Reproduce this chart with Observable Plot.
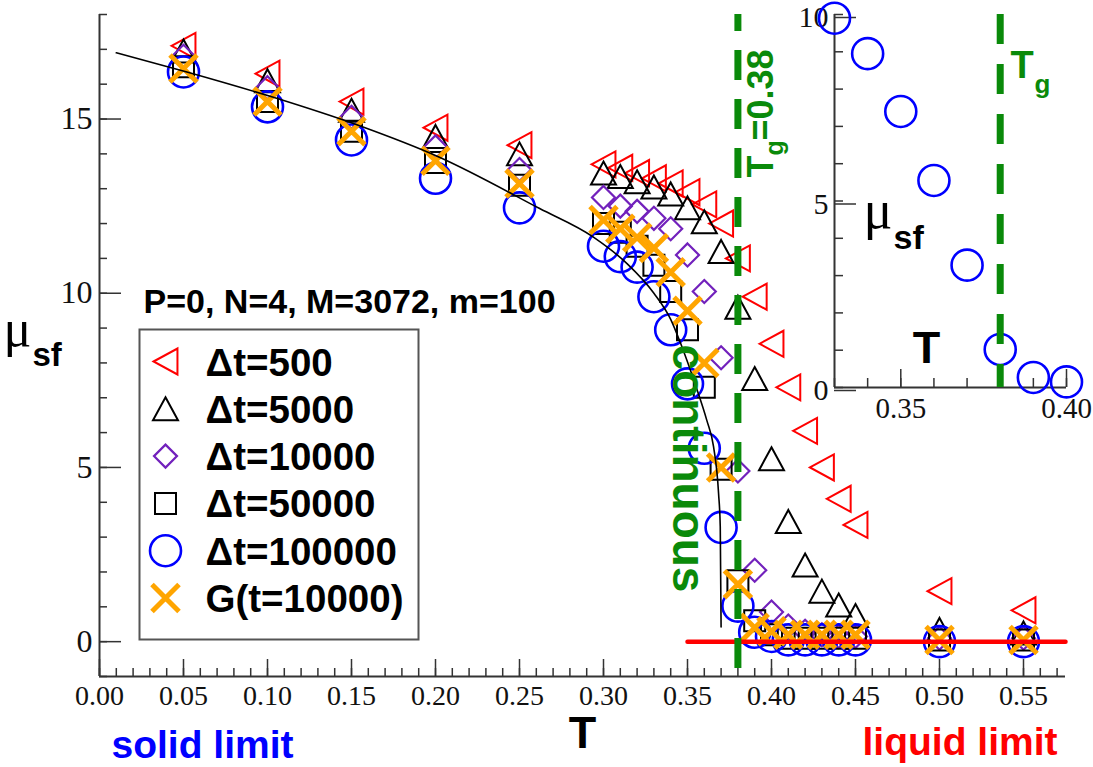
<!DOCTYPE html>
<html><head><meta charset="utf-8">
<script src="https://cdn.jsdelivr.net/npm/d3@7"></script>
<script src="https://cdn.jsdelivr.net/npm/@observablehq/plot@0.6"></script>
<style>
html,body{margin:0;padding:0;background:#fff;}
#wrap{position:relative;width:1093px;height:767px;overflow:hidden;}
#main{position:absolute;left:0;top:0;width:1093px;}
#inset{position:absolute;left:780px;top:0;width:313px;}
</style></head>
<body><div id="wrap"><div id="main"></div><div id="inset"></div></div>
<script>
// ---------------- data ----------------
const T        = [0.05, 0.10, 0.15, 0.20, 0.25, 0.30, 0.31, 0.32, 0.33, 0.34, 0.35, 0.36, 0.37, 0.38, 0.39, 0.40, 0.41, 0.42, 0.43, 0.44, 0.45, 0.50, 0.55];
const mu500    = [17.1, 16.3, 15.5, 14.75, 14.25, 13.7, 13.6, 13.45, 13.3, 13.15, 12.9, 12.55, 12.0, 11.0, 9.9, 8.55, 7.3, 6.05, 5.0, 4.1, 3.35, 1.45, 0.9];
const mu5000   = [16.95, 16.1, 15.25, 14.5, 14.0, 13.45, 13.35, 13.2, 13.05, 12.85, 12.45, 12.05, 11.2, 9.6, 7.55, 5.25, 3.45, 2.2, 1.45, 1.05, 0.75, 0.35, 0.25];
const mu10000  = [16.8, 15.9, 15.05, 14.2, 13.55, 12.75, 12.5, 12.35, 12.15, 11.85, 11.1, 10.05, 8.15, 4.9, 2.05, 0.85, 0.45, 0.3, 0.2, 0.15, 0.15, 0.1, 0.1];
const mu50000  = [16.5, 15.5, 14.65, 13.75, 13.1, 12.0, 11.75, 11.35, 10.8, 10.05, 8.95, 7.3, 4.95, 1.75, 0.6, 0.2, 0.1, 0.1, 0.1, 0.1, 0.1, 0.05, 0.05];
const mu100000 = [16.35, 15.35, 14.4, 13.3, 12.45, 11.35, 11.05, 10.75, 9.9, 8.95, 7.4, 5.55, 3.28, 1.02, 0.27, 0.15, 0.05, 0.05, 0.05, 0.05, 0.05, 0.0, 0.0];
const muG      = [16.45, 15.5, 14.65, 13.8, 13.15, 12.1, 11.85, 11.6, 11.3, 10.6, 9.5, 8.0, 5.0, 1.65, 0.4, 0.3, 0.2, 0.2, 0.2, 0.2, 0.2, 0.05, 0.05];
const seriesNames = ["\u0394t=500", "\u0394t=5000", "\u0394t=10000", "\u0394t=50000", "\u0394t=100000", "G(t=10000)"];

// fitted black curve
const fitT  = [0.010, 0.052, 0.103, 0.154, 0.202, 0.262, 0.294, 0.314, 0.330, 0.340, 0.346, 0.3545, 0.3615, 0.3655, 0.3685, 0.3695, 0.3700];
const fitMu = [16.9, 16.35, 15.63, 14.82, 13.91, 12.43, 11.61, 10.85, 10.0, 9.25, 8.55, 7.4, 6.35, 5.6, 4.25, 3.3, 0.42];

const Tg = 0.38;                       // glass temperature (dashed green)
const liquidT  = [0.35, 0.575];        // red "liquid limit" line
const liquidMu = [0, 0];

// axes
const xDomain = [0, 0.575], yDomain = [-1, 18];
const xMajorTicks = [0, 0.05, 0.10, 0.15, 0.20, 0.25, 0.30, 0.35, 0.40, 0.45, 0.50, 0.55];
const xMinorTicks = d3.range(0, 0.5751, 0.01);
const yMajorTicks = [0, 5, 10, 15];
const yMinorTicks = d3.range(-1, 18.01, 1);

const insetXDomain = [0.33, 0.40], insetYDomain = [0, 10];
const insetXMajor = [0.35, 0.40];
const insetXMinor = d3.range(0.33, 0.4001, 0.01);
const insetYMajor = [0, 5, 10];
const insetYMinor = d3.range(0, 10.01, 1);

// ---------------- styles ----------------
const green = "#0a8a0a";
const axisColor = "#333";
const sym = {
  leftTri: {draw(c, s) { const R = Math.sqrt(s / Math.PI); c.moveTo(-0.92 * R, 0); c.lineTo(0.92 * R, -R); c.lineTo(0.92 * R, R); c.closePath(); }},
  upTri:   {draw(c, s) { const R = Math.sqrt(s / Math.PI); c.moveTo(0, -0.92 * R); c.lineTo(R, 0.92 * R); c.lineTo(-R, 0.92 * R); c.closePath(); }},
  diamond: {draw(c, s) { const R = Math.sqrt(s / Math.PI); c.moveTo(0, -R); c.lineTo(R, 0); c.lineTo(0, R); c.lineTo(-R, 0); c.closePath(); }},
  square:  {draw(c, s) { const R = Math.sqrt(s / Math.PI); c.rect(-R, -R, 2 * R, 2 * R); }},
  circle:  {draw(c, s) { const R = Math.sqrt(s / Math.PI); c.moveTo(R, 0); c.arc(0, 0, R, 0, 2 * Math.PI); }},
  times:   {draw(c, s) { const R = Math.sqrt(s / Math.PI); c.moveTo(-R, -R); c.lineTo(R, R); c.moveTo(-R, R); c.lineTo(R, -R); }}
};
const seriesStyle = [
  {symbol: sym.leftTri, r: 13,   stroke: "#ff0000", strokeWidth: 2},
  {symbol: sym.upTri,   r: 12.5, stroke: "#000000", strokeWidth: 2},
  {symbol: sym.diamond, r: 11.5, stroke: "#7221bc", strokeWidth: 2.2},
  {symbol: sym.square,  r: 10.5, stroke: "#000000", strokeWidth: 2},
  {symbol: sym.circle,  r: 15.5, stroke: "#0000ff", strokeWidth: 2.6},
  {symbol: sym.times,   r: 13.5, stroke: "#ffa500", strokeWidth: 5}
];
const seriesValues = [mu500, mu5000, mu10000, mu50000, mu100000, muG];

// ---------------- layout ----------------
const W = 1093, H = 767, ML = 99, MR = 28, MT = 14, MB = 91;
const note = (ml, mt) => (str, px, py, o = {}) =>
  Plot.text([str], {text: d => d, frameAnchor: "top-left", dx: px - ml, dy: py - mt,
                    lineAnchor: "bottom", textAnchor: "start", ...o});
const mainNote = note(ML, MT);
const bold = {fontWeight: "bold", fontFamily: "Liberation Sans"};

const LEG = {left: 139, top: 329, right: 418, bottom: 639, symX: 165, textX: 205, y0: 361, base0: 375, dy: 47.3};

const rows = vals => T.map((t, i) => ({T: t, mu: vals[i]}));

const mainPlot = Plot.plot({
  width: W, height: H, marginLeft: ML, marginRight: MR, marginTop: MT, marginBottom: MB,
  style: {fontFamily: "Liberation Sans", background: "white", overflow: "visible"},
  x: {domain: xDomain}, y: {domain: yDomain},
  marks: [
    // axes
    Plot.ruleX([xDomain[0]], {stroke: axisColor, strokeWidth: 2}),
    Plot.ruleY([yDomain[0]], {stroke: axisColor, strokeWidth: 2}),
    Plot.axisX({ticks: xMinorTicks, tickSize: -8, fill: "none", stroke: axisColor, strokeWidth: 1.5, label: null}),
    Plot.axisX({ticks: xMajorTicks, tickSize: -17, tickPadding: 26, tickFormat: d3.format(".2f"),
                fontSize: 28, fontFamily: "Liberation Serif", fill: "#111", stroke: axisColor, strokeWidth: 1.5, label: null}),
    Plot.axisY({ticks: yMinorTicks, tickSize: -8, fill: "none", stroke: axisColor, strokeWidth: 1.5, label: null}),
    Plot.axisY({ticks: yMajorTicks, tickSize: -22, tickPadding: 29, tickFormat: d => String(d),
                fontSize: 32, fontFamily: "Liberation Serif", fill: "#111", stroke: axisColor, strokeWidth: 1.5, label: null}),
    // data
    seriesValues.map((vals, k) => Plot.dot(rows(vals), {x: "T", y: "mu", fill: "none", ...seriesStyle[k]})),
    Plot.line(fitT.map((t, i) => ({T: t, mu: fitMu[i]})), {x: "T", y: "mu", stroke: "black", strokeWidth: 1.6, curve: "monotone-x"}),
    Plot.line(liquidT.map((t, i) => ({T: t, mu: liquidMu[i]})), {x: "T", y: "mu", stroke: "#ff0000", strokeWidth: 4.5}),
    Plot.ruleX([Tg], {stroke: green, strokeWidth: 7, strokeDasharray: "30,19", strokeDashoffset: 13}),
    // legend
    Plot.frame({insetLeft: LEG.left - ML, insetTop: LEG.top - MT, insetRight: (W - MR) - LEG.right, insetBottom: (H - MB) - LEG.bottom,
                stroke: "#555", strokeWidth: 2, fill: "white"}),
    seriesNames.map((name, k) => [
      Plot.dot([name], {frameAnchor: "top-left", dx: LEG.symX - ML, dy: LEG.y0 + k * LEG.dy - MT, fill: "none", ...seriesStyle[k]}),
      mainNote(name, LEG.textX, LEG.base0 + k * LEG.dy, {fontSize: 38.5, ...bold, fill: "#000"})
    ]),
    // annotations
    mainNote("P=0, N=4, M=3072, m=100", 143, 312, {fontSize: 34, ...bold, fill: "#000"}),
    mainNote("\u03bc", 3, 345, {fontSize: 52, fontFamily: "Liberation Serif", fill: "#000"}),
    mainNote("sf", 32, 365, {fontSize: 33, ...bold, fill: "#000"}),
    mainNote("T", 582, 747, {textAnchor: "middle", fontSize: 45, ...bold, fill: "#000"}),
    mainNote("solid limit", 111, 757, {fontSize: 39, ...bold, fill: "#0000ff"}),
    mainNote("liquid limit", 1057, 754, {textAnchor: "end", fontSize: 39, ...bold, fill: "#ff0000"}),
    mainNote("continuous", 672, 468, {rotate: 90, textAnchor: "middle", fontSize: 46, ...bold, fill: green}),
    mainNote("T", 772, 177, {rotate: -90, fontSize: 36, ...bold, fill: green}),
    mainNote("g", 782, 155, {rotate: -90, fontSize: 25, ...bold, fill: green}),
    mainNote("=0.38", 772, 140, {rotate: -90, fontSize: 36, ...bold, fill: green})
  ]
});
document.getElementById("main").append(mainPlot);

// ---------------- inset ----------------
const IW = 313, IH = 430, IL = 54, IR = 27, IT = 14, IB = 43;
const insetNote = note(IL, IT);
const insetRows = rows(mu100000).filter(d => d.T >= insetXDomain[0] - 1e-9 && d.T <= insetXDomain[1] + 1e-9);

const insetPlot = Plot.plot({
  width: IW, height: IH, marginLeft: IL, marginRight: IR, marginTop: IT, marginBottom: IB,
  style: {fontFamily: "Liberation Sans", background: "none", overflow: "visible"},
  x: {domain: insetXDomain}, y: {domain: insetYDomain},
  marks: [
    Plot.ruleX([insetXDomain[0]], {stroke: axisColor, strokeWidth: 2}),
    Plot.ruleY([insetYDomain[0]], {stroke: axisColor, strokeWidth: 2}),
    Plot.axisX({ticks: insetXMinor, tickSize: -9, fill: "none", stroke: axisColor, strokeWidth: 1.5, label: null}),
    Plot.axisX({ticks: insetXMajor, tickSize: -18, tickPadding: 28, tickFormat: d3.format(".2f"),
                fontSize: 29, fontFamily: "Liberation Serif", fill: "#111", stroke: axisColor, strokeWidth: 1.5, label: null}),
    Plot.axisY({ticks: insetYMinor, tickSize: -9, fill: "none", stroke: axisColor, strokeWidth: 1.5, label: null}),
    Plot.axisY({ticks: insetYMajor, tickSize: -22, tickPadding: 28, tickFormat: d => String(d), dy: 3,
                fontSize: 30, fontFamily: "Liberation Serif", fill: "#111", stroke: axisColor, strokeWidth: 1.5, label: null}),
    Plot.dot(insetRows, {x: "T", y: "mu", fill: "none", ...seriesStyle[4]}),
    Plot.ruleX([Tg], {stroke: green, strokeWidth: 7, strokeDasharray: "30,20", strokeDashoffset: 0}),
    insetNote("\u03bc", 83, 227, {fontSize: 54, fontFamily: "Liberation Serif", fill: "#000"}),
    insetNote("sf", 113, 248, {fontSize: 34, ...bold, fill: "#000"}),
    insetNote("T", 146, 362, {textAnchor: "middle", fontSize: 45, ...bold, fill: "#000"}),
    insetNote("T", 230, 77, {fontSize: 38, ...bold, fill: green}),
    insetNote("g", 254, 92, {fontSize: 26, ...bold, fill: green})
  ]
});
document.getElementById("inset").append(insetPlot);
</script>
</body></html>
